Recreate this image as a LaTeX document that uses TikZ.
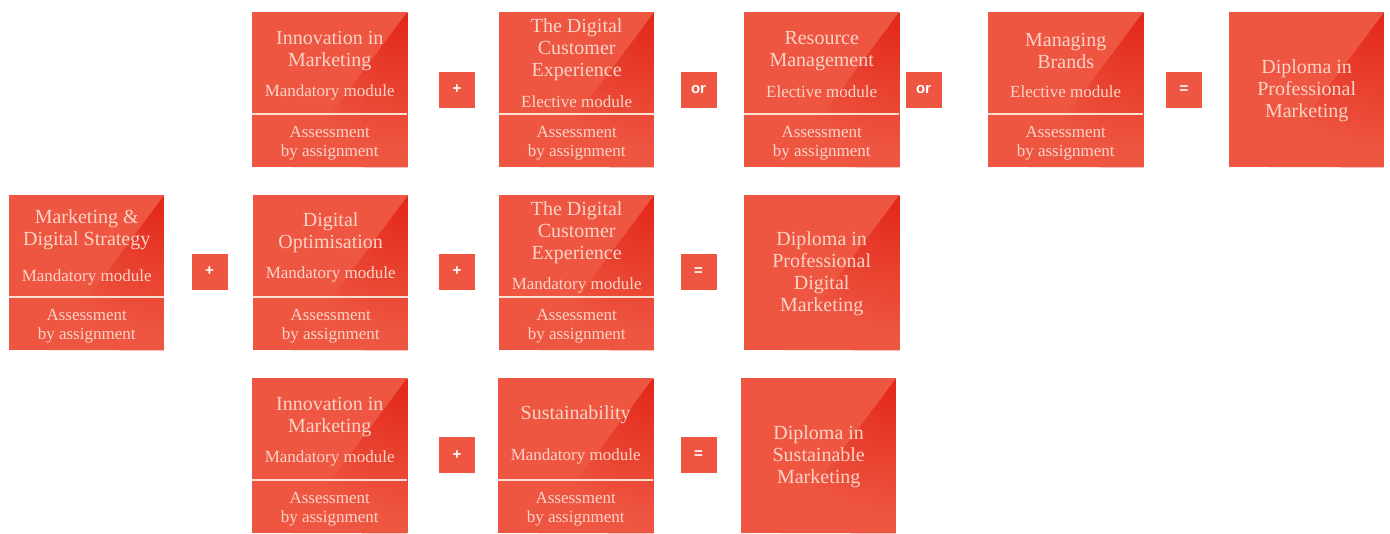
\documentclass[tikz,border=0pt]{standalone}
\usepackage{fontspec}
\setmainfont{Liberation Serif}
\newfontfamily\opfont{Liberation Sans}

\definecolor{boxred}{RGB}{238,86,66}
\definecolor{glowred}{RGB}{226,38,24}
\definecolor{labelpeach}{RGB}{250,212,198}
\definecolor{rulepeach}{RGB}{252,224,212}

% darker red glow spreading from the top right corner of each panel
\pgfdeclareradialshading{cornerglow}{\pgfpoint{0bp}{0bp}}{%
  color(0bp)=(glowred); color(22bp)=(boxred); color(50bp)=(boxred)}

\tikzset{
  panel/.style={fill=boxred, draw=none, minimum width=155pt, minimum height=155pt,
    inner sep=0pt, anchor=north west},
  optile/.style={fill=boxred, minimum width=36pt, minimum height=36pt, inner sep=0pt,
    text=white, font=\opfont\bfseries\fontsize{15}{15}\selectfont},
  headtext/.style={text=labelpeach, align=center, inner sep=0pt,
    font=\fontsize{20}{22}\selectfont},
  kindtext/.style={text=labelpeach, inner sep=0pt, font=\fontsize{17}{19}\selectfont},
  asstext/.style={text=labelpeach, align=center, inner sep=0pt,
    font=\fontsize{17}{19}\selectfont},
  splitrule/.style={draw=rulepeach, line width=1.6pt},
}

\newcommand\panelglow[1]{%
  \begin{scope}
    \clip (#1.north west) rectangle (#1.south east);
    \clip (#1.north east) -- ++(-116,155) -- (#1.south east) -- cycle;
    \shade[shading=cornerglow] ([shift={(-160pt,-160pt)}]#1.north east)
      rectangle ([shift={(160pt,160pt)}]#1.north east);
  \end{scope}}

% module panel: name, x, y, title, title offset, kind, kind offset
\newcommand\modulepanel[7]{%
  \node[panel] (#1) at (#2,#3) {};
  \panelglow{#1}
  \draw[splitrule] ([yshift=-102pt]#1.north west) -- ([yshift=-102pt]#1.north east);
  \node[headtext] (#1-title) at ([yshift=-#5pt]#1.north) {#4};
  \node[kindtext] (#1-kind) at ([yshift=-#7pt]#1.north) {#6};
  \node[asstext] (#1-assess) at ([yshift=-131pt]#1.north) {Assessment\\by assignment};}

% award panel: name, x, y, text
\newcommand\awardpanel[4]{%
  \node[panel] (#1) at (#2,#3) {};
  \panelglow{#1}
  \node[headtext] (#1-title) at ([yshift=-79pt]#1.north) {#4};}

\begin{document}
\begin{tikzpicture}[x=1pt,y=-1pt]
  \fill[white] (0,0) rectangle (1390,533);
  \useasboundingbox (0,0) rectangle (1390,533);

  % first route
  \modulepanel{innovA}{252}{12}{Innovation in\\Marketing}{39}{Mandatory module}{80}
  \modulepanel{customerA}{499}{12}{The Digital\\Customer\\Experience}{38}{Elective module}{90}
  \modulepanel{resource}{744}{12}{Resource\\Management}{39}{Elective module}{80}
  \modulepanel{brands}{988}{12}{Managing\\Brands}{39}{Elective module}{80}
  \awardpanel{dipPM}{1229}{12}{Diploma in\\Professional\\Marketing}
  \node[optile] (plusA) at (457,89.5) {+};
  \node[optile] (orA) at (698.5,89.5) {or};
  \node[optile] (orB) at (923.5,89.5) {or};
  \node[optile] (eqA) at (1184,89.5) {=};

  % second route
  \modulepanel{strategy}{9}{195}{Marketing \&\\Digital Strategy}{35}{Mandatory module}{82}
  \modulepanel{optim}{253}{195}{Digital\\Optimisation}{38}{Mandatory module}{79}
  \modulepanel{customerB}{499}{195}{The Digital\\Customer\\Experience}{38}{Mandatory module}{90}
  \awardpanel{dipPDM}{744}{195}{Diploma in\\Professional\\Digital\\Marketing}
  \node[optile] (plusB) at (209.5,271.5) {+};
  \node[optile] (plusC) at (457,271.5) {+};
  \node[optile] (eqB) at (698.5,271.5) {=};

  % third route
  \modulepanel{innovB}{252}{378}{Innovation in\\Marketing}{39}{Mandatory module}{80}
  \modulepanel{sustain}{498}{378}{Sustainability}{37}{Mandatory module}{78}
  \awardpanel{dipSM}{741}{378}{Diploma in\\Sustainable\\Marketing}
  \node[optile] (plusD) at (457,455) {+};
  \node[optile] (eqC) at (698.5,455) {=};
\end{tikzpicture}
\end{document}
